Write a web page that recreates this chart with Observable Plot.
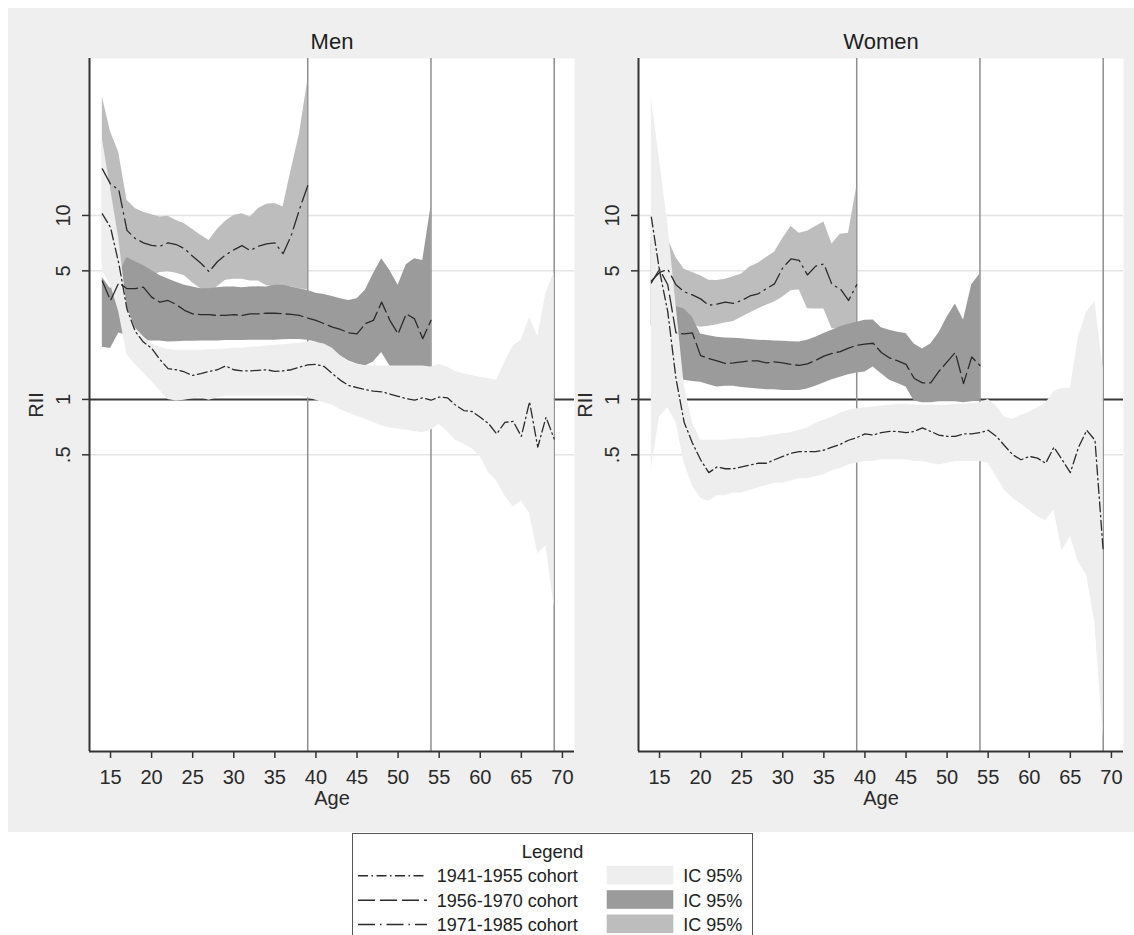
<!DOCTYPE html>
<html><head><meta charset="utf-8">
<script src="https://cdn.jsdelivr.net/npm/d3@7"></script>
<script src="https://cdn.jsdelivr.net/npm/@observablehq/plot@0.6"></script>
<style>
html,body{margin:0;padding:0;background:#fff;}
#root{position:relative;width:1134px;height:935px;overflow:hidden;font-family:'Liberation Sans',Arial,sans-serif;}
#bg{position:absolute;left:8px;top:8px;width:1126px;height:824px;background:#efefef;}
.panel{position:absolute;top:0;}
#legend{position:absolute;left:352px;top:833px;}
</style></head><body>
<div id="root"><div id="bg"></div><div class="panel" id="men" style="left:0px"></div><div class="panel" id="women" style="left:549px"></div>
<svg id="legend" width="402" height="102"></svg></div>
<script>
// ---------------- data ----------------
const ages = [14,15,16,17,18,19,20,21,22,23,24,25,26,27,28,29,30,31,32,33,34,35,36,37,38,39,40,41,42,43,44,45,46,47,48,49,50,51,52,53,54,55,56,57,58,59,60,61,62,63,64,65,66,67,68,69];
const xTicks = [15,20,25,30,35,40,45,50,55,60,65,70];
const yTicks = [0.5,1,5,10];
const yTickLabels = [".5","1","5","10"];
const gridValues = [0.5,5,10];
const refAges = [39,54,69];
const panelTitles = ["Men","Women"];
const cohortLabels = ["1941-1955 cohort","1956-1970 cohort","1971-1985 cohort"];
const ciLabel = "IC 95%";

// Men, 1941-1955 cohort (ages 14-69)
const menEst41 = [10.2,8.6,5.5,3.1,2.35,2.05,1.9,1.65,1.47,1.45,1.41,1.35,1.38,1.42,1.45,1.52,1.45,1.43,1.43,1.44,1.45,1.42,1.43,1.45,1.5,1.54,1.55,1.51,1.38,1.27,1.19,1.16,1.13,1.11,1.1,1.07,1.04,1.01,0.99,1.02,0.99,1.03,1.02,0.93,0.87,0.86,0.8,0.74,0.65,0.75,0.76,0.63,0.97,0.55,0.8,0.61];
const menLo41 = [5.0,4.2,3.0,1.75,1.55,1.4,1.25,1.12,1.0,0.98,0.99,1.01,1.02,0.99,1.02,1.04,1.04,1.04,1.04,1.04,1.04,1.04,1.04,1.04,1.04,1.02,0.99,0.96,0.93,0.88,0.84,0.81,0.78,0.75,0.72,0.7,0.69,0.68,0.67,0.66,0.68,0.73,0.67,0.6,0.57,0.54,0.49,0.4,0.36,0.3,0.26,0.28,0.24,0.145,0.16,0.074];
const menHi41 = [26,14,7.5,3.2,2.45,2.2,2.0,1.92,1.87,1.85,1.85,1.85,1.85,1.86,1.87,1.88,1.9,1.9,1.92,1.93,1.95,1.97,1.98,2.0,2.02,2.05,2.04,2.0,1.9,1.72,1.6,1.55,1.53,1.52,1.52,1.52,1.52,1.52,1.52,1.52,1.5,1.55,1.5,1.42,1.38,1.35,1.32,1.3,1.27,1.6,1.95,2.1,2.8,2.2,3.8,4.9];
// Men, 1956-1970 cohort (ages 14-54)
const menEst56 = [4.4,3.45,4.3,4.0,4.0,4.08,3.6,3.38,3.45,3.28,3.05,2.92,2.89,2.89,2.86,2.86,2.89,2.86,2.92,2.92,2.94,2.94,2.92,2.9,2.86,2.77,2.69,2.58,2.47,2.4,2.3,2.27,2.58,2.69,3.38,2.69,2.27,2.92,2.74,2.14,2.69];
const menLo56 = [1.92,1.89,2.3,2.23,2.14,2.09,2.08,2.08,2.05,2.06,2.07,2.07,2.08,2.08,2.08,2.09,2.09,2.09,2.1,2.1,2.1,2.1,2.11,2.12,2.12,2.1,2.05,1.95,1.85,1.72,1.62,1.56,1.52,1.6,1.8,1.52,1.44,1.44,1.44,1.44,1.43];
const menHi56 = [4.6,4.0,4.8,5.9,5.6,5.34,5.02,4.72,4.52,4.34,4.17,4.08,4.0,4.0,4.05,4.08,4.08,4.05,4.08,4.1,4.08,4.17,4.17,4.08,4.0,3.91,3.78,3.72,3.63,3.53,3.45,3.53,3.91,4.82,5.81,5.02,4.17,5.4,5.81,5.69,11.1];
// Men, 1971-1985 cohort (ages 14-39)
const menEst71 = [17.9,14.8,13.8,8.3,7.5,7.1,6.87,6.8,7.1,6.95,6.6,6.0,5.5,4.95,5.6,6.1,6.5,6.85,6.45,6.8,7.0,7.1,6.2,7.8,10.8,14.5];
const menLo71 = [5.5,5.0,4.6,4.3,4.4,4.5,4.7,4.9,4.95,4.85,4.7,4.3,4.0,3.7,4.1,4.45,4.5,4.5,4.4,4.4,4.15,4.1,3.9,4.1,4.0,3.95];
const menHi71 = [44,28.5,22,12.1,10.9,10.4,10.1,9.8,9.9,9.4,9.0,8.4,7.8,7.3,8.4,9.3,10.0,10.2,9.8,10.9,11.5,11.6,11.1,17.8,27.8,54];

// Women, 1941-1955 cohort (ages 14-69)
const womenEst41 = [9.8,5.0,3.0,1.3,0.75,0.58,0.47,0.4,0.43,0.42,0.42,0.43,0.44,0.45,0.45,0.47,0.49,0.51,0.52,0.52,0.52,0.53,0.55,0.57,0.6,0.62,0.65,0.64,0.66,0.67,0.67,0.66,0.67,0.7,0.67,0.64,0.63,0.63,0.65,0.65,0.66,0.68,0.63,0.56,0.5,0.47,0.49,0.48,0.45,0.55,0.47,0.4,0.55,0.68,0.6,0.15];
const womenLo41 = [0.42,0.8,0.9,0.75,0.45,0.34,0.29,0.28,0.3,0.3,0.31,0.31,0.32,0.33,0.34,0.35,0.35,0.36,0.37,0.37,0.38,0.39,0.41,0.42,0.44,0.45,0.46,0.46,0.47,0.47,0.47,0.47,0.46,0.46,0.45,0.44,0.45,0.46,0.46,0.46,0.46,0.45,0.38,0.32,0.29,0.27,0.25,0.23,0.22,0.25,0.15,0.18,0.13,0.11,0.06,0.0145];
const womenHi41 = [44,20,9,3.3,1.2,0.75,0.6,0.6,0.6,0.6,0.61,0.61,0.62,0.62,0.63,0.64,0.65,0.66,0.68,0.7,0.74,0.77,0.8,0.84,0.87,0.89,0.9,0.91,0.92,0.93,0.94,0.94,0.93,0.93,0.93,0.93,0.93,0.94,0.94,0.95,0.96,1.0,0.92,0.8,0.78,0.82,0.85,0.9,0.95,1.1,1.15,1.15,2.2,3.0,3.4,1.47];
// Women, 1956-1970 cohort (ages 14-54)
const womenEst56 = [4.3,5.1,4.2,2.3,2.27,2.3,1.73,1.67,1.62,1.57,1.58,1.6,1.62,1.62,1.58,1.6,1.58,1.55,1.53,1.56,1.63,1.72,1.78,1.82,1.9,1.97,2.0,2.02,1.8,1.68,1.62,1.55,1.3,1.23,1.23,1.42,1.6,1.8,1.22,1.7,1.53];
const womenLo56 = [2.5,2.8,2.5,1.3,1.27,1.25,1.24,1.2,1.17,1.18,1.18,1.16,1.15,1.14,1.13,1.13,1.12,1.12,1.12,1.14,1.18,1.23,1.28,1.32,1.36,1.39,1.41,1.5,1.38,1.27,1.22,1.17,0.98,0.96,0.96,0.97,0.97,0.97,0.96,0.97,0.98];
const womenHi56 = [7,8,6.5,3.2,3.1,2.8,2.27,2.22,2.18,2.16,2.15,2.14,2.12,2.1,2.09,2.08,2.07,2.06,2.05,2.1,2.18,2.28,2.38,2.48,2.56,2.63,2.69,2.7,2.45,2.38,2.32,2.28,2.0,1.88,2.0,2.3,2.8,3.3,2.7,4.2,4.8];
// Women, 1971-1985 cohort (ages 14-39)
const womenEst71 = [4.4,4.9,5.1,4.2,3.85,3.7,3.52,3.25,3.3,3.38,3.33,3.45,3.65,3.75,4.0,4.25,5.2,5.8,5.7,4.75,5.3,5.45,4.2,4.0,3.45,4.2];
const womenLo71 = [2.5,2.8,3.2,3.0,2.8,2.55,2.47,2.5,2.55,2.6,2.65,2.8,2.95,3.1,3.25,3.38,3.6,3.9,3.95,3.11,3.1,3.1,2.42,2.42,2.42,2.42];
const womenHi71 = [9,9,7.5,5.9,5.1,4.9,4.7,4.45,4.43,4.5,4.65,4.8,5.25,5.5,5.9,6.3,7.5,8.7,8.0,8.2,8.7,9.2,7.0,7.9,8.0,14.3];

// ---------------- styles ----------------
const ciFill = {c41: "#eeeeee", c56: "#9b9b9b", c71: "#bdbdbd"};
const dash = {c41: "10,3.5,1.5,3.5", c56: "17,5", c71: "17,5,1.5,5"};
const lineColor = "#2b2b2b";
const xDomain = [12.44, 71.47];
const yDomain = [0.0122, 71.3];
const FONT = "'Liberation Sans', Arial, Helvetica, sans-serif";

function rows(est, lo, hi) {
  return est.map((e, i) => ({age: ages[i], est: e, lo: lo[i], hi: hi[i]}));
}

function panel(title, d41, d56, d71) {
  return Plot.plot({
    width: 580, height: 832,
    marginLeft: 89, marginRight: 6, marginTop: 58, marginBottom: 81,
    x: {domain: xDomain},
    y: {type: "log", domain: yDomain},
    style: {background: "transparent", fontFamily: FONT, fontSize: "20px", color: "#2a2a2a", overflow: "visible"},
    marks: [
      Plot.frame({fill: "white", stroke: null}),
      Plot.ruleY(gridValues, {stroke: "#e4e4e4", strokeWidth: 1.5}),
      Plot.ruleY([1], {stroke: "#3a3a3a", strokeWidth: 2}),
      Plot.ruleX(refAges, {stroke: "#8e8e8e", strokeWidth: 1.5}),
      Plot.areaY(d71, {x: "age", y1: "lo", y2: "hi", fill: ciFill.c71}),
      Plot.areaY(d56, {x: "age", y1: "lo", y2: "hi", fill: ciFill.c56}),
      Plot.areaY(d41, {x: "age", y1: "lo", y2: "hi", fill: ciFill.c41}),
      Plot.line(d41, {x: "age", y: "est", stroke: lineColor, strokeWidth: 1.3, strokeDasharray: dash.c41}),
      Plot.line(d56, {x: "age", y: "est", stroke: lineColor, strokeWidth: 1.3, strokeDasharray: dash.c56}),
      Plot.line(d71, {x: "age", y: "est", stroke: lineColor, strokeWidth: 1.3, strokeDasharray: dash.c71}),
      Plot.axisX({ticks: xTicks, tickSize: 7, tickPadding: 11, label: null, fontSize: 20, stroke: "#333", strokeWidth: 1.5}),
      Plot.axisY({ticks: yTicks, tickSize: 7, tickFormat: () => "", label: null, stroke: "#333", strokeWidth: 1.5}),
      Plot.text(yTicks, {y: d => d, text: (d, i) => yTickLabels[i], frameAnchor: "left", dx: -25.5, rotate: -90, textAnchor: "middle", lineAnchor: "middle", fontSize: 20, fill: "#2a2a2a"}),
      Plot.text(["RII"], {frameAnchor: "left", dx: -53, rotate: -90, textAnchor: "middle", lineAnchor: "middle", fontSize: 20, fill: "#2a2a2a"}),
      Plot.text(["Age"], {frameAnchor: "bottom", dy: 47, lineAnchor: "middle", fontSize: 20, fill: "#2a2a2a"}),
      Plot.text([title], {frameAnchor: "top", dy: -17, lineAnchor: "middle", fontSize: 22, fill: "#1e1e1e"}),
      Plot.ruleX([xDomain[0]], {stroke: "#333", strokeWidth: 2}),
      Plot.ruleY([yDomain[0]], {stroke: "#333", strokeWidth: 2})
    ]
  });
}

const men41 = rows(menEst41, menLo41, menHi41);
const men56 = rows(menEst56, menLo56, menHi56);
const men71 = rows(menEst71, menLo71, menHi71);
const women41 = rows(womenEst41, womenLo41, womenHi41);
const women56 = rows(womenEst56, womenLo56, womenHi56);
const women71 = rows(womenEst71, womenLo71, womenHi71);

document.getElementById("men").append(panel(panelTitles[0], men41, men56, men71));
document.getElementById("women").append(panel(panelTitles[1], women41, women56, women71));

// ---------------- legend ----------------
const lg = d3.select("#legend");
lg.append("rect").attr("x", 0.5).attr("y", 0.5).attr("width", 400).attr("height", 130)
  .attr("fill", "white").attr("stroke", "#555").attr("stroke-width", 1);
lg.append("text").attr("x", 200.5).attr("y", 24.7).attr("text-anchor", "middle")
  .attr("font-family", FONT).attr("font-size", 18.5).attr("fill", "#222").text("Legend");
const baselines = [49.3, 73.7, 98];
const fills = [ciFill.c41, ciFill.c56, ciFill.c71];
const dashes = [dash.c41, dash.c56, dash.c71];
cohortLabels.forEach((lab, i) => {
  const b = baselines[i];
  lg.append("line").attr("x1", 6).attr("x2", 75).attr("y1", b - 6.5).attr("y2", b - 6.5)
    .attr("stroke", lineColor).attr("stroke-width", 1.5).attr("stroke-dasharray", dashes[i]);
  lg.append("text").attr("x", 84.7).attr("y", b).attr("font-family", FONT).attr("font-size", 18)
    .attr("fill", "#222").text(lab);
  lg.append("rect").attr("x", 254.7).attr("y", b - 16.5).attr("width", 66.6).attr("height", 18.6)
    .attr("fill", fills[i]);
  lg.append("text").attr("x", 331.3).attr("y", b).attr("font-family", FONT).attr("font-size", 18)
    .attr("fill", "#222").text(ciLabel);
});
</script>
</body></html>
